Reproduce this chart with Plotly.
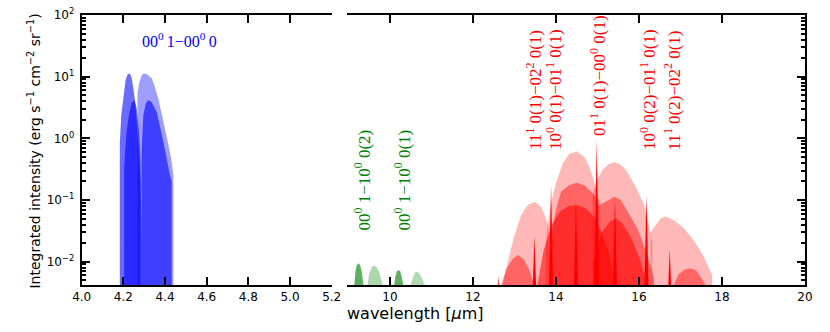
import plotly.graph_objects as go

# ---------------- data (wavelength in micron, integrated intensity) ----------------
# CO2 4.3 um band 00^0 1 - 00^0 0 : light envelopes (R and P branches)
blue1_R_wl = [4.183, 4.190, 4.200, 4.211, 4.220, 4.227, 4.234, 4.240, 4.248, 4.258, 4.266, 4.274, 4.282]
blue1_R_int = [0.80, 2.4, 5.0, 8.8, 10.8, 11.3, 10.8, 9.4, 6.5, 3.5, 1.6, 0.6, 0.2]
blue1_P_wl = [4.268, 4.278, 4.290, 4.304, 4.315, 4.336, 4.350, 4.368, 4.385, 4.400, 4.416, 4.432, 4.440]
blue1_P_int = [5.5, 8.5, 10.8, 11.3, 10.8, 9.4, 7.0, 4.4, 2.5, 1.45, 0.8, 0.42, 0.25]
# hot band (darker)
blue2_R_wl = [4.204, 4.208, 4.216, 4.228, 4.240, 4.253, 4.264, 4.275, 4.282, 4.287]
blue2_R_int = [0.3, 0.6, 1.3, 2.5, 3.7, 4.2, 3.1, 1.28, 0.47, 0.02]
blue2_P_wl = [4.285, 4.288, 4.296, 4.308, 4.320, 4.335, 4.360, 4.392, 4.424, 4.432]
blue2_P_int = [0.05, 0.69, 2.4, 3.7, 4.2, 3.9, 2.7, 0.88, 0.25, 0.2]

# laser bands 00^0 1 - 10^0 0(2) and (1)
green1_wl = [9.14, 9.17, 9.20, 9.24, 9.28, 9.32, 9.36]
green1_int = [0.0042, 0.0072, 0.0088, 0.0094, 0.0088, 0.0068, 0.0042]
green2_wl = [9.46, 9.50, 9.56, 9.62, 9.68, 9.75, 9.82]
green2_int = [0.0042, 0.0065, 0.0081, 0.0086, 0.0081, 0.0065, 0.0042]
green3_wl = [10.10, 10.13, 10.17, 10.20, 10.24, 10.28, 10.32]
green3_int = [0.0042, 0.0058, 0.0070, 0.0073, 0.0070, 0.0058, 0.0042]
green4_wl = [10.50, 10.55, 10.60, 10.64, 10.69, 10.76, 10.84]
green4_int = [0.0042, 0.0056, 0.0066, 0.0069, 0.0066, 0.0056, 0.0042]

# 15 um region : light envelopes
redA_wl = [12.72, 12.80, 12.90, 13.00, 13.16, 13.32, 13.48, 13.64, 13.76, 13.85]
redA_int = [0.0042, 0.008, 0.015, 0.027, 0.057, 0.083, 0.094, 0.078, 0.05, 0.03]
redB_wl = [13.75, 13.80, 13.90, 14.00, 14.16, 14.32, 14.50, 14.68, 14.80, 14.90, 15.00]
redB_int = [0.02, 0.042, 0.10, 0.19, 0.39, 0.56, 0.61, 0.50, 0.35, 0.22, 0.12]
redC_wl = [14.88, 14.96, 15.12, 15.26, 15.40, 15.54, 15.68, 15.92, 16.12, 16.24, 16.32]
redC_int = [0.12, 0.19, 0.31, 0.38, 0.41, 0.38, 0.31, 0.164, 0.083, 0.039, 0.02]
redD_wl = [16.28, 16.40, 16.52, 16.64, 16.84, 17.08, 17.32, 17.56, 17.76]
redD_int = [0.03, 0.039, 0.05, 0.054, 0.047, 0.035, 0.022, 0.012, 0.006]
# medium envelopes
redE_wl = [12.68, 12.80, 12.95, 13.08, 13.22, 13.35, 13.48]
redE_int = [0.0042, 0.0075, 0.011, 0.0128, 0.011, 0.0075, 0.0042]
redF_wl = [13.90, 14.00, 14.12, 14.32, 14.50, 14.70, 14.88, 15.04]
redF_int = [0.03, 0.07, 0.136, 0.175, 0.19, 0.17, 0.13, 0.10]
redG_wl = [15.00, 15.20, 15.40, 15.56, 15.72, 15.96, 16.20, 16.36]
redG_int = [0.08, 0.094, 0.113, 0.10, 0.065, 0.035, 0.013, 0.0054]
redH_wl = [16.84, 16.95, 17.10, 17.24, 17.38, 17.50, 17.60]
redH_int = [0.0042, 0.0062, 0.0075, 0.0078, 0.0072, 0.0055, 0.0042]
# darker envelopes
redF2_wl = [13.55, 13.70, 13.90, 14.10, 14.30, 14.50, 14.70, 14.90, 15.10, 15.30, 15.40]
redF2_int = [0.0042, 0.015, 0.04, 0.065, 0.08, 0.083, 0.075, 0.055, 0.03, 0.012, 0.0042]
redG2_wl = [14.90, 15.10, 15.30, 15.45, 15.60, 15.80, 16.00, 16.20]
redG2_int = [0.01, 0.03, 0.045, 0.05, 0.042, 0.025, 0.012, 0.0042]
# Q-branch spikes
spike_wl = [12.62, 13.48, 13.88, 14.48, 14.98, 15.42, 16.18, 16.74]
spike_int = [0.0058, 0.026, 0.175, 0.11, 0.93, 0.11, 0.12, 0.016]

# tick labels
left_ticks = [4.0, 4.2, 4.4, 4.6, 4.8, 5.0, 5.2]
left_ticktext = ["4.0", "4.2", "4.4", "4.6", "4.8", "5.0", "5.2"]
right_ticks = [10, 12, 14, 16, 18, 20]
right_ticktext = ["10", "12", "14", "16", "18", "20"]
y_ticks = [0.01, 0.1, 1, 10, 100]
y_ticktext = ["10<sup>−2</sup>", "10<sup>−1</sup>", "10<sup>0</sup>", "10<sup>1</sup>", "10<sup>2</sup>"]

# band labels
band_labels = [
    ("00<sup>0</sup> 1−10<sup>0</sup> 0(2)", 9.324, -1.52, "green"),
    ("00<sup>0</sup> 1−10<sup>0</sup> 0(1)", 10.288, -1.52, "green"),
    ("11<sup>1</sup> 0(1)−02<sup>2</sup> 0(1)", 13.469, -0.222, "red"),
    ("10<sup>0</sup> 0(1)−01<sup>1</sup> 0(1)", 13.939, -0.222, "red"),
    ("01<sup>1</sup> 0(1)−00<sup>0</sup> 0(1)", 14.999, 0.005, "red"),
    ("10<sup>0</sup> 0(2)−01<sup>1</sup> 0(1)", 16.204, -0.222, "red"),
    ("11<sup>1</sup> 0(2)−02<sup>2</sup> 0(1)", 16.806, -0.222, "red"),
]

BASE = 1e-3  # below the visible axis bottom

fig = go.Figure()


def band(wl, inten, color, xa, ya):
    x = [wl[0]] + list(wl) + [wl[-1]]
    y = [BASE] + list(inten) + [BASE]
    fig.add_trace(go.Scatter(x=x, y=y, mode="lines", fill="toself", fillcolor=color,
                             line=dict(width=0), xaxis=xa, yaxis=ya, hoverinfo="skip"))


# blue
band(blue1_R_wl, blue1_R_int, "rgba(0,0,255,0.58)", "x", "y")
band(blue1_P_wl, blue1_P_int, "rgba(0,0,255,0.38)", "x", "y")
band(blue2_R_wl, blue2_R_int, "rgba(0,0,255,0.6)", "x", "y")
band(blue2_P_wl, blue2_P_int, "rgba(0,0,255,0.6)", "x", "y")

# green
band(green1_wl, green1_int, "rgba(0,128,0,0.62)", "x2", "y2")
band(green2_wl, green2_int, "rgba(0,128,0,0.32)", "x2", "y2")
band(green3_wl, green3_int, "rgba(0,128,0,0.62)", "x2", "y2")
band(green4_wl, green4_int, "rgba(0,128,0,0.3)", "x2", "y2")

# red
for wl, it in [(redA_wl, redA_int), (redB_wl, redB_int), (redC_wl, redC_int), (redD_wl, redD_int)]:
    band(wl, it, "rgba(255,0,0,0.28)", "x2", "y2")
for wl, it in [(redE_wl, redE_int), (redF_wl, redF_int), (redG_wl, redG_int), (redH_wl, redH_int)]:
    band(wl, it, "rgba(255,0,0,0.45)", "x2", "y2")
for wl, it in [(redF2_wl, redF2_int), (redG2_wl, redG2_int)]:
    band(wl, it, "rgba(255,0,0,0.55)", "x2", "y2")

# spikes (triangular glyphs)
HW = 0.07
for c, p in zip(spike_wl, spike_int):
    fig.add_trace(go.Scatter(x=[c - HW, c, c + HW], y=[BASE, p, BASE], mode="lines",
                             fill="toself", fillcolor="rgba(255,0,0,1)", line=dict(width=0),
                             xaxis="x2", yaxis="y2", hoverinfo="skip"))

tickfont = dict(family="DejaVu Sans", size=12, color="black")
common_x = dict(ticks="inside", ticklen=8, tickwidth=2, tickcolor="black", showline=True,
                linewidth=2, linecolor="black", mirror="ticks", showgrid=False, zeroline=False,
                tickfont=tickfont, tickmode="array", automargin=False)
common_y = dict(type="log", range=[-2.378, 2], ticks="inside", ticklen=8, tickwidth=2,
                tickcolor="black", showline=True, linewidth=2, linecolor="black", mirror=False,
                showgrid=False, zeroline=False, tickfont=tickfont, tickmode="array",
                tickvals=y_ticks, ticktext=y_ticktext, automargin=False,
                minor=dict(ticks="inside", ticklen=4, tickwidth=1.5, tickcolor="black",
                           dtick="D1", showgrid=False),
                domain=[0.1416, 0.9548])

fig.update_layout(
    template="none",
    width=830, height=332, margin=dict(l=0, r=0, t=0, b=0, pad=0), autosize=False,
    plot_bgcolor="white", paper_bgcolor="white", showlegend=False,
    xaxis=dict(domain=[0.0984, 0.3996], range=[4.0, 5.2], tickvals=left_ticks,
               ticktext=left_ticktext, anchor="y", **common_x),
    yaxis=dict(anchor="x", side="left", ticklabelstandoff=3, **common_y),
    xaxis2=dict(domain=[0.4184, 0.9699], range=[8.97, 20], tickvals=right_ticks,
                ticktext=right_ticktext, anchor="y2", **common_x),
    yaxis2=dict(anchor="x2", side="right", showticklabels=False, **common_y),
)

serif = "Liberation Serif"
ann = [dict(text="00<sup>0</sup>\u20091−00<sup>0</sup>\u20090", x=4.470, y=1.595, xref="x", yref="y",
            showarrow=False, xanchor="center", yanchor="middle",
            font=dict(family=serif, size=16, color="blue"))]
for txt, xv, yv, col in band_labels:
    ann.append(dict(text=txt, x=xv, y=yv, xref="x2", yref="y2", showarrow=False,
                    textangle=-90, xanchor="center", yanchor="bottom",
                    font=dict(family=serif, size=17, color=col)))
ann.append(dict(text="wavelength [<i>μ</i>m]", x=0.501, y=0.057, xref="paper", yref="paper",
                showarrow=False, xanchor="center", yanchor="middle",
                font=dict(family="DejaVu Sans", size=16, color="black")))
ann.append(dict(text="Integrated intensity (erg s<sup>−1</sup> cm<sup>−2</sup> sr<sup>−1</sup>)",
                x=0.0416, y=0.545, xref="paper", yref="paper", showarrow=False,
                textangle=-90, xanchor="center", yanchor="middle",
                font=dict(family="DejaVu Sans", size=14, color="black")))
fig.update_layout(annotations=ann)

fig.write_html("out.html", config={"displayModeBar": False},
               post_script="document.body.style.margin='0px';")
